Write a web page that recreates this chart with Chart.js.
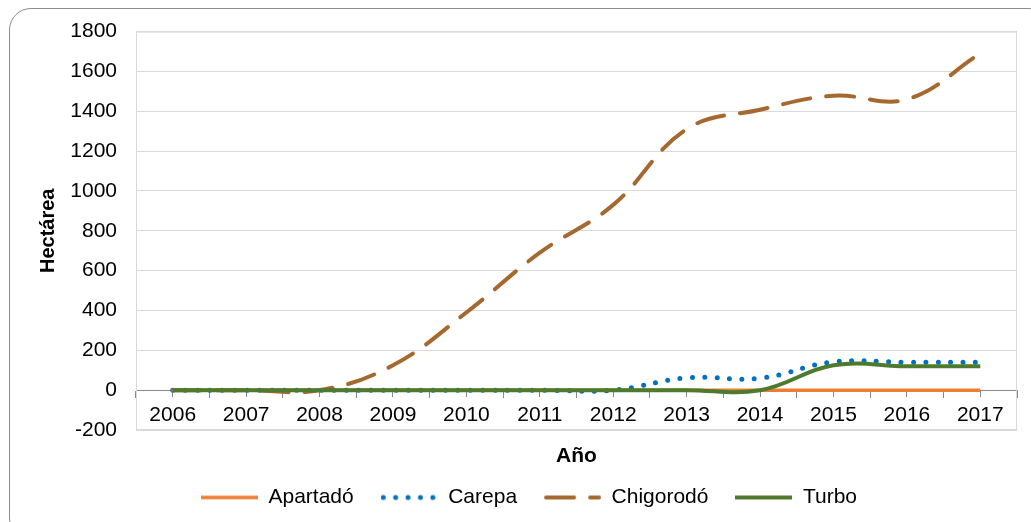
<!DOCTYPE html>
<html lang="es">
<head>
<meta charset="UTF-8">
<title>Hectárea por año</title>
<script src="https://cdn.jsdelivr.net/npm/chart.js"></script>
<style>
  html, body { margin: 0; padding: 0; background: #fff; overflow: hidden; }
  .frame { position: absolute; left: 9px; top: 8px; width: 1040px; height: 530px; border: 1px solid #8c8c8c; border-radius: 22px; }
  .wrap { position: absolute; left: 0; top: 0; width: 1031px; height: 522px; }
</style>
</head>
<body>
<div class="frame"></div>
<div class="wrap"><canvas id="chart"></canvas></div>
<script>
// values
const years = ['2006', '2007', '2008', '2009', '2010', '2011', '2012', '2013', '2014', '2015', '2016', '2017'];
const apartado  = [0, 0, 0, 0, 0, 0, 0, 0, 0, 0, 0, 0];
const carepa    = [0, 0, 0, 0, 0, 0, 0, 62, 60, 142, 140, 140];
const chigorodo = [0, 0, 0, 125, 390, 690, 930, 1310, 1408, 1478, 1460, 1690];
const turbo     = [0, 0, 0, 0, 0, 0, 0, 0, 0, 125, 120, 120];
const yTicks = [-200, 0, 200, 400, 600, 800, 1000, 1200, 1400, 1600, 1800];

const FONT = '"Liberation Sans", Arial, sans-serif';

// small line samples for the legend (Chart.js draws point-style legends without dashes)
function swatch(color, width, dash, cap) {
    const c = document.createElement('canvas');
    c.width = 57;
    c.height = 8;
    const g = c.getContext('2d');
    g.strokeStyle = color;
    g.lineWidth = width;
    g.lineCap = cap;
    g.setLineDash(dash);
    const inset = cap === 'round' ? width / 2 : 0;
    g.beginPath();
    g.moveTo(inset, 4);
    g.lineTo(57 - inset, 4);
    g.stroke();
    return c;
}

// light border round the plot area, like the Excel plot box
const plotBox = {
    id: 'plotBox',
    beforeDatasetsDraw(chart) {
        const {ctx, chartArea: a} = chart;
        ctx.save();
        ctx.strokeStyle = '#d9d9d9';
        ctx.lineWidth = 1;
        ctx.strokeRect(a.left + 0.5, a.top + 0.5, a.right - a.left - 1, a.bottom - a.top - 1);
        ctx.restore();
    }
};

new Chart(document.getElementById('chart'), {
    type: 'line',
    data: {
        labels: years,
        datasets: [
            {
                label: 'Apartadó', data: apartado,
                borderColor: '#ED7D31', backgroundColor: '#ED7D31',
                borderWidth: 3.5, order: 4,
                pointStyle: swatch('#ED7D31', 3.5, [], 'butt')
            },
            {
                label: 'Carepa', data: carepa,
                borderColor: '#0070C0', backgroundColor: '#0070C0',
                borderWidth: 5, borderDash: [0, 12.4], borderCapStyle: 'round', order: 3,
                pointStyle: swatch('#0070C0', 5, [0, 12.4], 'round')
            },
            {
                label: 'Chigorodó', data: chigorodo,
                borderColor: '#A5692F', backgroundColor: '#A5692F',
                borderWidth: 4, borderDash: [28, 16], borderCapStyle: 'round', order: 2,
                pointStyle: swatch('#A5692F', 4, [28, 16], 'round')
            },
            {
                label: 'Turbo', data: turbo,
                borderColor: '#4E7A2E', backgroundColor: '#4E7A2E',
                borderWidth: 4, order: 1,
                pointStyle: swatch('#4E7A2E', 4, [], 'butt')
            }
        ]
    },
    options: {
        responsive: true,
        maintainAspectRatio: false,
        animation: false,
        events: [],
        layout: { padding: { left: 41, right: 14, top: 30, bottom: 4 } },
        elements: {
            point: { radius: 0, hoverRadius: 0 },
            line: { tension: 0.4, fill: false }
        },
        plugins: {
            tooltip: { enabled: false },
            legend: {
                position: 'bottom',
                reverse: true,
                title: { display: true, text: '', font: { size: 10 }, padding: { top: 18, bottom: 0 } },
                labels: {
                    usePointStyle: true,
                    pointStyleWidth: 57,
                    boxHeight: 21,
                    padding: 27,
                    color: '#000',
                    font: { family: FONT, size: 21 }
                }
            }
        },
        scales: {
            y: {
                min: -200,
                max: 1800,
                afterBuildTicks: (scale) => { scale.ticks = yTicks.map(v => ({ value: v })); },
                afterFit: (scale) => { scale.width = 95; },
                ticks: {
                    color: '#000', padding: 19, font: { family: FONT, size: 21 },
                    callback: (v) => String(v)
                },
                grid: { color: '#d9d9d9', drawTicks: false },
                border: { color: '#d9d9d9' },
                title: {
                    display: true, text: 'Hectárea', color: '#000',
                    font: { family: FONT, size: 20, weight: 'bold' },
                    padding: { top: -5, bottom: 0 }
                }
            },
            x: {
                position: { y: 0 },
                offset: true,
                ticks: { color: '#000', padding: 5, maxRotation: 0, font: { family: FONT, size: 21 } },
                grid: { drawOnChartArea: false, offset: true, tickLength: 7, color: '#898989' },
                border: { color: '#898989' },
                title: {
                    display: true, text: 'Año', color: '#000',
                    font: { family: FONT, size: 21, weight: 'bold' },
                    padding: { top: 11, bottom: 4 }
                }
            },
            x2: {
                type: 'category',
                position: { y: 0 },
                offset: true,
                ticks: { display: false },
                grid: { drawOnChartArea: false, offset: false, tickLength: 7, color: '#898989' },
                border: { display: false }
            }
        }
    },
    plugins: [plotBox]
});
</script>
</body>
</html>
